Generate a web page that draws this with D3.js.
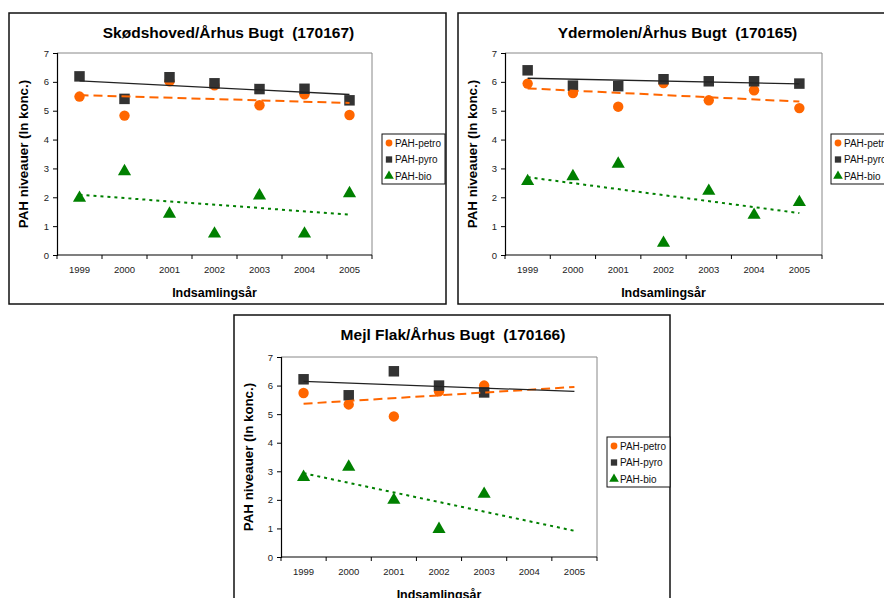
<!DOCTYPE html>
<html>
<head>
<meta charset="utf-8">
<script src="https://cdn.jsdelivr.net/npm/d3@7"></script>
<style>
  body { margin: 0; background: #fff; }
  svg { display: block; font-family: "Liberation Sans", Arial, sans-serif; }
</style>
</head>
<body>
<svg id="chart" width="884" height="598"></svg>
<script>
const years = ['1999', '2000', '2001', '2002', '2003', '2004', '2005'];
const yTicks = [0, 1, 2, 3, 4, 5, 6, 7];
const seriesNames = ['PAH-petro', 'PAH-pyro', 'PAH-bio'];

// Skødshoved/Århus Bugt (170167)
const skodPetro = [5.49, 4.83, 6.02, 5.88, 5.19, 5.57, 4.85];
const skodPyro = [6.19, 5.41, 6.16, 5.95, 5.75, 5.76, 5.36];
const skodBio = [2.01, 2.93, 1.46, 0.77, 2.09, 0.77, 2.17];

// Ydermolen/Århus Bugt (170165)
const yderPetro = [5.94, 5.61, 5.14, 5.96, 5.36, 5.71, 5.09];
const yderPyro = [6.40, 5.87, 5.85, 6.09, 6.02, 6.02, 5.94];
const yderBio = [2.59, 2.76, 3.19, 0.45, 2.25, 1.42, 1.86];

// Mejl Flak/Århus Bugt (170166) - no data for 2004, 2005
const mejlPetro = [5.74, 5.34, 4.92, 5.80, 6.00];
const mejlPyro = [6.22, 5.66, 6.50, 6.00, 5.76];
const mejlBio = [2.83, 3.19, 2.03, 1.01, 2.24];

const colors = { petro: '#ff6600', pyro: '#333333', bio: '#008000' };

const svg = d3.select('#chart');

// panel boxes: frame, plot area and legend
const panels = [
  { title: 'Skødshoved/Århus Bugt  (170167)', petro: skodPetro, pyro: skodPyro, bio: skodBio,
    frame: [9, 13, 437, 291], plot: [57, 53, 315, 202], legend: [382, 134, 63, 50] },
  { title: 'Ydermolen/Århus Bugt  (170165)', petro: yderPetro, pyro: yderPyro, bio: yderBio,
    frame: [458, 13, 440, 291], plot: [505, 53, 317, 202], legend: [831, 134, 63, 50] },
  { title: 'Mejl Flak/Århus Bugt  (170166)', petro: mejlPetro, pyro: mejlPyro, bio: mejlBio,
    frame: [234, 315, 436, 300], plot: [281, 357, 316, 200], legend: [607, 437, 63, 50] }
];

function trend(values) {
  // least squares fit over index, extended to the last year
  const xs = values.map((v, i) => i);
  const mx = d3.mean(xs), my = d3.mean(values);
  const slope = d3.sum(xs, (x, i) => (x - mx) * (values[i] - my)) / d3.sum(xs, (x) => (x - mx) ** 2);
  return [0, years.length - 1].map((i) => ({ year: years[i], value: my + slope * (i - mx) }));
}

function drawPanel(p) {
  const [fx, fy, fw, fh] = p.frame;
  const [px, py, pw, ph] = p.plot;

  svg.append('rect')
    .attr('x', fx).attr('y', fy).attr('width', fw).attr('height', fh)
    .attr('fill', '#fff').attr('stroke', '#111').attr('stroke-width', 1.5);

  svg.append('text')
    .attr('x', px + pw / 2 + 14).attr('y', fy + 25)
    .attr('text-anchor', 'middle')
    .attr('font-size', 15.5).attr('font-weight', 'bold')
    .style('white-space', 'pre')
    .text(p.title);

  const x = d3.scaleBand().domain(years).range([px, px + pw]);
  const y = d3.scaleLinear().domain([0, 7]).range([py + ph, py]);

  // gray top and right edges of the plot area
  svg.append('path')
    .attr('d', `M${px},${py}H${px + pw}V${py + ph}`)
    .attr('fill', 'none').attr('stroke', '#888').attr('stroke-width', 1);

  const yAxis = svg.append('g')
    .attr('transform', `translate(${px},0)`)
    .call(d3.axisLeft(y).tickValues(yTicks).tickFormat(d3.format('d')).tickSize(4).tickPadding(4));
  const xAxis = svg.append('g')
    .attr('transform', `translate(0,${py + ph})`)
    .call(d3.axisBottom(x).tickSize(0).tickPadding(11));
  // ticks between categories
  xAxis.selectAll('.between')
    .data(d3.range(years.length + 1))
    .enter()
    .append('line')
    .attr('x1', (i) => px + i * x.step()).attr('x2', (i) => px + i * x.step())
    .attr('y1', 0).attr('y2', 4)
    .attr('stroke', '#000');

  [yAxis, xAxis].forEach((g) => {
    g.select('.domain').attr('stroke', '#000').attr('stroke-width', 1.2);
    g.selectAll('text').attr('font-size', 9.5).attr('fill', '#222')
      .attr('font-family', '"Liberation Sans", Arial, sans-serif');
  });
  xAxis.select('.domain').attr('d', `M${px},0H${px + pw}`);

  svg.append('text')
    .attr('transform', `translate(${fx + 14},${py + ph / 2}) rotate(-90)`)
    .attr('text-anchor', 'middle').attr('dy', '0.35em')
    .attr('font-size', 13.3).attr('font-weight', 'bold')
    .text('PAH niveauer (ln konc.)');

  svg.append('text')
    .attr('x', px + pw / 2).attr('y', py + ph + 42)
    .attr('text-anchor', 'middle')
    .attr('font-size', 12.5).attr('font-weight', 'bold')
    .text('Indsamlingsår');

  const line = d3.line().x((d) => x(d.year) + x.bandwidth() / 2).y((d) => y(d.value));

  const series = [
    { key: 'petro', values: p.petro, symbol: d3.symbolCircle, size: 85, dash: '9,5', width: 2 },
    { key: 'pyro', values: p.pyro, symbol: d3.symbolSquare, size: 110, dash: null, width: 1.3 },
    { key: 'bio', values: p.bio, symbol: d3.symbolTriangle, size: 75, dash: '3,4', width: 2 }
  ];

  // markers, drawn bio -> petro -> pyro so squares sit over circles
  [series[2], series[0], series[1]].forEach((s) => {
    svg.append('g').selectAll('path')
      .data(s.values.map((v, i) => ({ year: years[i], value: v })))
      .enter()
      .append('path')
      .attr('d', d3.symbol().type(s.symbol).size(s.size))
      .attr('transform', (d) => `translate(${x(d.year) + x.bandwidth() / 2},${y(d.value) + (s.key === 'bio' ? 1 : 0)})`)
      .attr('fill', colors[s.key]);
  });

  series.forEach((s) => {
    svg.append('path')
      .datum(trend(s.values))
      .attr('d', line)
      .attr('fill', 'none')
      .attr('stroke', s.key === 'pyro' ? '#222' : colors[s.key])
      .attr('stroke-width', s.width)
      .attr('stroke-dasharray', s.dash);
  });

  const [lx, ly, lw, lh] = p.legend;
  svg.append('rect')
    .attr('x', lx).attr('y', ly).attr('width', lw).attr('height', lh)
    .attr('fill', '#fff').attr('stroke', '#111').attr('stroke-width', 1);
  const legendSizes = [36, 40, 40];
  series.forEach((s, i) => {
    const cy = ly + 9 + i * 16.5;
    svg.append('path')
      .attr('d', d3.symbol().type(s.symbol).size(legendSizes[i]))
      .attr('transform', `translate(${lx + 7},${cy})`)
      .attr('fill', colors[s.key]);
    svg.append('text')
      .attr('x', lx + 13).attr('y', cy).attr('dy', '0.35em')
      .attr('font-size', 10).attr('fill', '#111')
      .text(seriesNames[i]);
  });
}

panels.forEach(drawPanel);
</script>
</body>
</html>
